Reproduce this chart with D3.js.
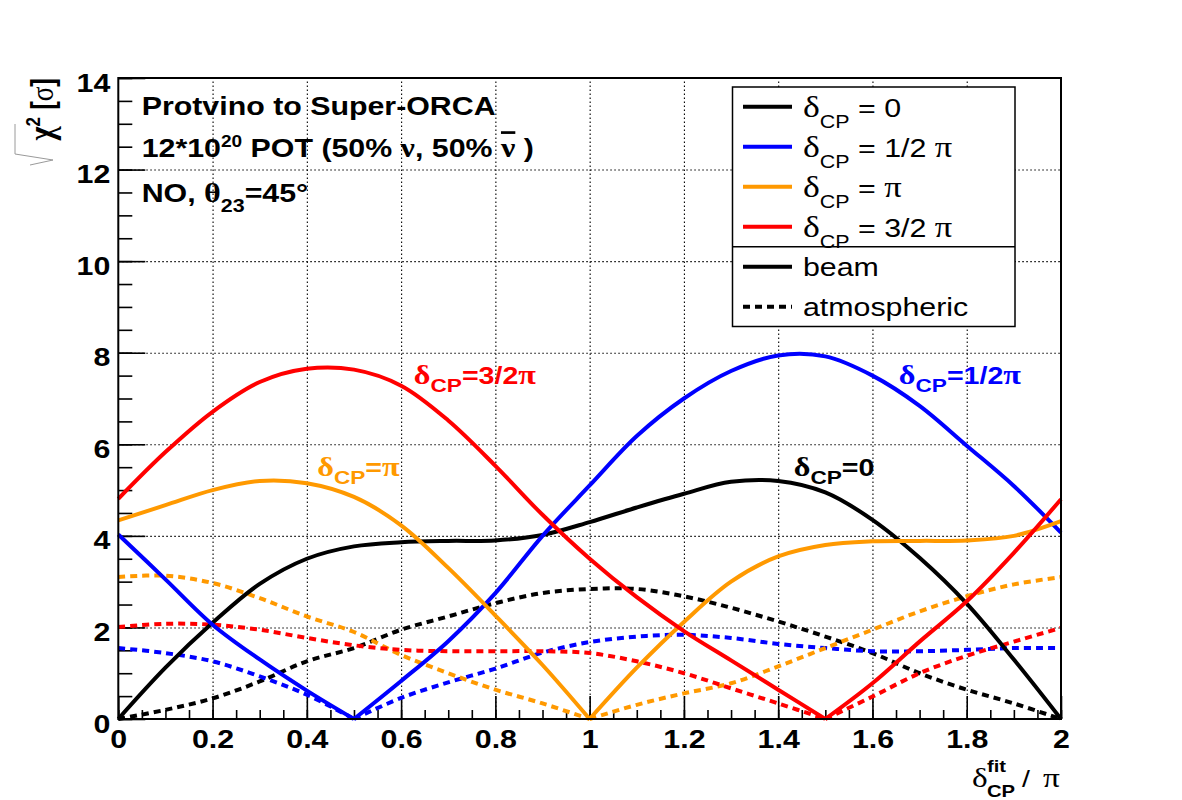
<!DOCTYPE html>
<html>
<head>
<meta charset="utf-8">
<script src="https://cdn.jsdelivr.net/npm/d3@7"></script>
<style>
  body { margin: 0; background: #fff; }
  text { font-family: "Liberation Sans", Arial, sans-serif; }
</style>
</head>
<body>
<svg id="chart" width="1182" height="800"></svg>
<script>
// fitted delta_CP / pi
const deltaFit = [0, 0.1, 0.2, 0.3, 0.4, 0.5, 0.6, 0.7, 0.8, 0.9, 1, 1.1, 1.2, 1.3, 1.4, 1.5, 1.6, 1.7, 1.8, 1.9, 2];

// beam, sqrt(chi2) per true delta_CP
const beam0 = [0, 1.12, 2.1, 2.95, 3.5, 3.77, 3.86, 3.89, 3.9, 4.02, 4.3, 4.62, 4.92, 5.18, 5.2, 4.95, 4.35, 3.52, 2.52, 1.3, 0];
const beamHalfPi = [4.03, 3.05, 2.06, 1.3, 0.62, 0, 0.83, 1.7, 2.75, 4.0, 5.1, 6.18, 7.0, 7.6, 7.94, 7.92, 7.5, 6.84, 5.97, 5.09, 4.07];
const beamPi = [4.34, 4.67, 5.0, 5.2, 5.15, 4.85, 4.23, 3.3, 2.26, 1.18, 0, 1.12, 2.12, 3.0, 3.55, 3.8, 3.88, 3.89, 3.9, 4.0, 4.32];
const beam3HalfPi = [4.81, 5.83, 6.71, 7.36, 7.65, 7.63, 7.28, 6.52, 5.53, 4.46, 3.5, 2.66, 1.92, 1.28, 0.64, 0, 0.78, 1.69, 2.57, 3.63, 4.8];

// atmospheric
const atm0 = [0, 0.2, 0.45, 0.82, 1.26, 1.55, 1.95, 2.24, 2.53, 2.75, 2.84, 2.84, 2.68, 2.43, 2.13, 1.8, 1.44, 1.0, 0.64, 0.34, 0];
const atmHalfPi = [1.55, 1.44, 1.26, 0.93, 0.53, 0, 0.46, 0.8, 1.1, 1.45, 1.68, 1.8, 1.84, 1.77, 1.64, 1.55, 1.48, 1.48, 1.51, 1.55, 1.55];
const atmPi = [3.1, 3.13, 2.97, 2.64, 2.24, 1.9, 1.4, 1.0, 0.64, 0.34, 0, 0.31, 0.56, 0.78, 1.15, 1.55, 1.95, 2.35, 2.68, 2.94, 3.1];
const atm3HalfPi = [2.01, 2.08, 2.06, 1.95, 1.77, 1.61, 1.51, 1.48, 1.48, 1.48, 1.44, 1.26, 1.0, 0.67, 0.34, 0, 0.49, 1.0, 1.38, 1.69, 1.99];

const colors = ["#000000", "#0000ff", "#ff9900", "#ff0000"];
const beamSeries = [beam0, beamHalfPi, beamPi, beam3HalfPi];
const atmSeries = [atm0, atmHalfPi, atmPi, atm3HalfPi];

const xTicks = [0, 0.2, 0.4, 0.6, 0.8, 1, 1.2, 1.4, 1.6, 1.8, 2];
const xTickLabels = ["0", "0.2", "0.4", "0.6", "0.8", "1", "1.2", "1.4", "1.6", "1.8", "2"];
const yTicks = [0, 2, 4, 6, 8, 10, 12, 14];
const yTickLabels = ["0", "2", "4", "6", "8", "10", "12", "14"];

const legendValues = ["0", "1/2 π", "π", "3/2 π"];
const legendKinds = ["beam", "atmospheric"];

const SX = 1.19; // text is drawn a bit wide, like the original
const SERIF = "'Liberation Serif', 'DejaVu Serif', serif";

const svg = d3.select("#chart");
const x = d3.scaleLinear().domain([0, 2]).range([118.3, 1061]);
const y = d3.scaleLinear().domain([0, 14]).range([719, 78]);
const plotH = y(0) - y(14);
const plotW = x(2) - x(0);

// grid
svg.append("g")
  .attr("transform", `translate(0,${y(0)})`)
  .call(d3.axisBottom(x).tickValues(xTicks.slice(1, -1)).tickSize(-plotH).tickFormat(""))
  .call((g) => g.select(".domain").remove())
  .selectAll("line")
  .attr("stroke", "#000").attr("stroke-width", 1.1).attr("stroke-dasharray", "1.5,2.5");
svg.append("g")
  .attr("transform", `translate(${x(0)},0)`)
  .call(d3.axisLeft(y).tickValues(yTicks.slice(1, -1)).tickSize(-plotW).tickFormat(""))
  .call((g) => g.select(".domain").remove())
  .selectAll("line")
  .attr("stroke", "#000").attr("stroke-width", 1.1).attr("stroke-dasharray", "1.5,2.5");

// minor + major ticks (pointing inside)
const xMinor = d3.range(0, 2.001, 0.05);
const yMinor = d3.range(0, 14.001, 0.5);
function tickAxis(axis, transform) {
  const g = svg.append("g").attr("transform", transform).call(axis);
  g.select(".domain").remove();
  g.selectAll("line").attr("stroke", "#000").attr("stroke-width", 1.6);
  return g;
}
tickAxis(d3.axisBottom(x).tickValues(xMinor).tickSize(-9).tickFormat(""), `translate(0,${y(0)})`);
tickAxis(d3.axisLeft(y).tickValues(yMinor).tickSize(-14).tickFormat(""), `translate(${x(0)},0)`);

const xAxis = tickAxis(
  d3.axisBottom(x).tickValues(xTicks).tickSize(-23).tickFormat((d, i) => xTickLabels[i]),
  `translate(0,${y(0)})`
);
xAxis.selectAll("text")
  .attr("x", 0).attr("y", 0).attr("dy", null)
  .attr("transform", `translate(0,29) scale(${SX},1)`)
  .attr("fill", "#000").attr("font-size", 25.5).attr("font-weight", "bold")
  .attr("font-family", "'Liberation Sans', Arial, sans-serif");

const yAxis = tickAxis(
  d3.axisLeft(y).tickValues(yTicks).tickSize(-27).tickFormat((d, i) => yTickLabels[i]),
  `translate(${x(0)},0)`
);
yAxis.selectAll("text")
  .attr("x", 0).attr("y", 0).attr("dy", null)
  .attr("text-anchor", "end")
  .attr("transform", `translate(-8,13) scale(${SX},1)`)
  .attr("fill", "#000").attr("font-size", 25.5).attr("font-weight", "bold")
  .attr("font-family", "'Liberation Sans', Arial, sans-serif");

// curves: split at interior zeros so the minima stay sharp
function segments(vals) {
  const segs = [];
  let cur = [];
  vals.forEach((v, i) => {
    cur.push([deltaFit[i], v]);
    if (v === 0 && i > 0 && i < vals.length - 1) {
      segs.push(cur);
      cur = [[deltaFit[i], v]];
    }
  });
  segs.push(cur);
  return segs;
}
const line = d3.line()
  .x((d) => x(d[0]))
  .y((d) => y(d[1]))
  .curve(d3.curveCatmullRom.alpha(0.5));

const curves = svg.append("g");
atmSeries.forEach((vals, k) => {
  segments(vals).forEach((seg) => {
    curves.append("path")
      .attr("d", line(seg))
      .attr("fill", "none")
      .attr("stroke", colors[k])
      .attr("stroke-width", 4)
      .attr("stroke-dasharray", "7,5");
  });
});
beamSeries.forEach((vals, k) => {
  segments(vals).forEach((seg) => {
    curves.append("path")
      .attr("d", line(seg))
      .attr("fill", "none")
      .attr("stroke", colors[k])
      .attr("stroke-width", 4)
      .attr("stroke-linejoin", "round");
  });
});

// frame
svg.append("rect")
  .attr("x", x(0)).attr("y", y(14))
  .attr("width", plotW).attr("height", plotH)
  .attr("fill", "none").attr("stroke", "#000").attr("stroke-width", 2);

// text helper: parts = [{t, size, serif, dy, weight, overline}]
function label(x0, y0, parts, opts) {
  const t = svg.append("text")
    .attr("transform", `translate(${x0},${y0}) scale(${SX},1)`)
    .attr("font-size", opts.size)
    .attr("font-weight", opts.weight || "normal")
    .attr("fill", opts.color || "#000")
    .attr("text-anchor", opts.anchor || "start");
  let cur = 0;
  parts.forEach((p) => {
    const ts = t.append("tspan").text(p.t);
    const shift = p.dy || 0;
    if (shift !== cur) ts.attr("dy", shift - cur);
    cur = shift;
    if (p.size) ts.attr("font-size", p.size);
    if (p.serif) ts.attr("font-family", SERIF);
    if (p.weight) ts.attr("font-weight", p.weight);
    if (p.overline) ts.style("text-decoration", "overline");
  });
  return t;
}

// info text
label(141.7, 115, [{ t: "Protvino to Super-ORCA" }], { size: 25.5, weight: "bold" });
label(141.7, 156.7, [
  { t: "12*10" },
  { t: "20", size: 16, dy: -10 },
  { t: " POT (50% " },
  { t: "ν", serif: true, size: 27 },
  { t: ", 50% " },
  { t: "ν", serif: true, size: 27, overline: true },
  { t: " )" }
], { size: 25.5, weight: "bold" });
label(141.7, 201.7, [
  { t: "NO, " },
  { t: "θ", serif: true, size: 27 },
  { t: "23", size: 18, dy: 10 },
  { t: "=45°" }
], { size: 25.5, weight: "bold" });

// curve annotations
const annotations = [
  { xv: 0.627, yv: 7.32, val: "3/2", k: 3 },
  { xv: 0.422, yv: 5.31, val: "", k: 2 },
  { xv: 1.656, yv: 7.32, val: "1/2", k: 1 },
  { xv: 1.433, yv: 5.31, val: "0", k: 0 }
];
annotations.forEach((a) => {
  const parts = [
    { t: "δ", serif: true, size: 27 },
    { t: "CP", size: 19, dy: 8 },
    { t: "=" + a.val }
  ];
  if (a.k !== 0) parts.push({ t: "π", serif: true, size: 27 });
  label(x(a.xv), y(a.yv), parts, { size: 24, weight: "bold", color: colors[a.k] });
});

// y title with a grey sqrt sign
label(53, 78, [
  { t: "χ", serif: true, size: 30 },
  { t: "2", size: 17, dy: -11 },
  { t: " [" },
  { t: "σ", serif: true, weight: "normal", size: 27 },
  { t: "]" }
], { size: 26, weight: "bold", anchor: "end" })
  .attr("transform", `translate(53,78) scale(${SX},1) rotate(-90)`);
svg.append("path")
  .attr("d", "M15,124 L15,154 L53,160 L30,165")
  .attr("fill", "none").attr("stroke", "#9a9a9a").attr("stroke-width", 1);

// x title
label(972, 787, [{ t: "δ", serif: true }], { size: 28 });
label(987, 772, [{ t: "fit" }], { size: 17, weight: "bold" });
label(987, 797, [{ t: "CP" }], { size: 17, weight: "bold" });
label(1022, 787, [{ t: "/" }], { size: 24 });
label(1043, 787, [{ t: "π", serif: true }], { size: 28 });

// legend
const lg = svg.append("g");
lg.append("rect")
  .attr("x", 732.5).attr("y", 87).attr("width", 282.5).attr("height", 239.5)
  .attr("fill", "#fff").attr("stroke", "#000").attr("stroke-width", 1.5);
lg.append("line")
  .attr("x1", 732.5).attr("x2", 1015).attr("y1", 246.7).attr("y2", 246.7)
  .attr("stroke", "#000").attr("stroke-width", 1.5);
const rowY = (i) => 106.7 + i * 40;
legendValues.forEach((v, i) => {
  lg.append("line")
    .attr("x1", 743).attr("x2", 792).attr("y1", rowY(i)).attr("y2", rowY(i))
    .attr("stroke", colors[i]).attr("stroke-width", 4);
  const parts = [
    { t: "δ", serif: true, size: 30 },
    { t: "CP", size: 18, dy: 11 },
    { t: " = " }
  ];
  if (v.includes("π")) {
    const num = v.replace("π", "");
    if (num) parts.push({ t: num });
    parts.push({ t: "π", serif: true, size: 29 });
  } else {
    parts.push({ t: v });
  }
  label(803, rowY(i) + 10.5, parts, { size: 25.5 });
});
legendKinds.forEach((kind, j) => {
  const i = j + 4;
  lg.append("line")
    .attr("x1", 743).attr("x2", 792).attr("y1", rowY(i)).attr("y2", rowY(i))
    .attr("stroke", "#000").attr("stroke-width", 4)
    .attr("stroke-dasharray", j === 1 ? "7,5" : null);
  label(803, rowY(i) + 9, [{ t: kind }], { size: 25.5 });
});
</script>
</body>
</html>
